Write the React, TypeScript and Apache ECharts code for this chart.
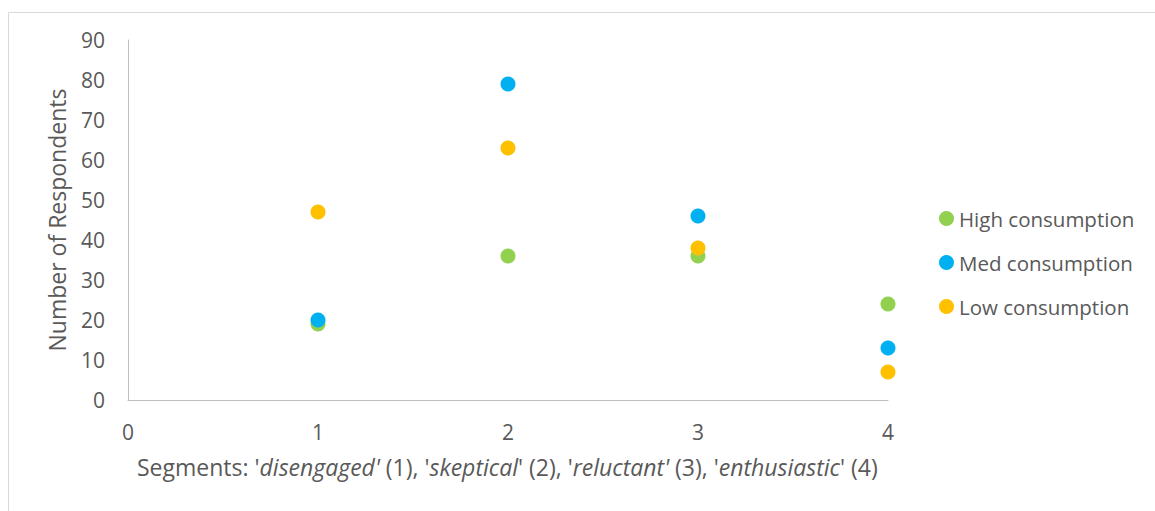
import React, { useEffect, useRef } from "react";
import * as echarts from "echarts";

// Segment positions on the x axis and respondent counts per consumption level
const segments = [1, 2, 3, 4];
const highConsumption = [19, 36, 36, 24];
const medConsumption = [20, 79, 46, 13];
const lowConsumption = [47, 63, 38, 7];

const seriesNames = ["High consumption", "Med consumption", "Low consumption"];
const seriesColors = ["#92D050", "#00B0F0", "#FFC000"];

const xTicks = [0, 1, 2, 3, 4];
const yTicks = [0, 10, 20, 30, 40, 50, 60, 70, 80, 90];

const FONT = "'Open Sans', sans-serif";
const TEXT = "#595959";

export default function App() {
  const ref = useRef<HTMLDivElement>(null);

  useEffect(() => {
    if (!ref.current) return;
    const chart = echarts.init(ref.current, undefined, { renderer: "svg" });

    const pairs = (ys: number[]) => segments.map((x, i) => [x, ys[i]]);
    const values = [highConsumption, medConsumption, lowConsumption];

    chart.setOption({
      animation: false,
      backgroundColor: "#ffffff",
      textStyle: { fontFamily: FONT, color: TEXT },
      grid: { left: 128, top: 40, width: 760, height: 360, containLabel: false },
      xAxis: {
        type: "value",
        min: xTicks[0],
        max: xTicks[xTicks.length - 1],
        interval: 1,
        axisLine: { show: true, lineStyle: { color: "#BFBFBF", width: 1 } },
        axisTick: { show: false },
        splitLine: { show: false },
        axisLabel: { color: TEXT, fontSize: 21, fontFamily: FONT, margin: 21 },
      },
      yAxis: {
        type: "value",
        min: yTicks[0],
        max: yTicks[yTicks.length - 1],
        interval: 10,
        axisLine: { show: true, lineStyle: { color: "#BFBFBF", width: 1 } },
        axisTick: { show: false },
        splitLine: { show: false },
        axisLabel: { color: TEXT, fontSize: 21, fontFamily: FONT, margin: 23 },
        name: "Number of Respondents",
        nameLocation: "middle",
        nameGap: 60,
        nameTextStyle: { color: TEXT, fontSize: 23, fontFamily: FONT },
      },
      legend: {
        orient: "vertical",
        left: 934,
        top: 203,
        itemWidth: 15,
        itemHeight: 15,
        itemGap: 23,
        icon: "circle",
        textStyle: { color: TEXT, fontSize: 20.5, fontFamily: FONT },
        data: seriesNames,
      },
      graphic: [
        {
          type: "rect",
          shape: { x: 8.5, y: 12.5, width: 1300, height: 700 },
          style: { fill: "none", stroke: "#D9D9D9", lineWidth: 1 },
          silent: true,
        },
        {
          type: "text",
          x: 137,
          y: 467,
          style: {
            text: "{n|Segments: '}{i|disengaged'}{n| (1), '}{i|skeptical}{n|' (2), '}{i|reluctant'}{n| (3), '}{i|enthusiastic}{n|' (4)}",
            verticalAlign: "middle",
            fontFamily: FONT,
            fontSize: 23,
            fill: TEXT,
            rich: {
              n: { fontFamily: FONT, fontSize: 23, fill: TEXT, font: "23px 'Open Sans', sans-serif" },
              i: {
                fontFamily: FONT,
                fontSize: 23,
                fontStyle: "italic",
                fill: TEXT,
                font: "italic 23px 'Open Sans', sans-serif",
              },
            },
          },
        },
      ],
      series: seriesNames.map((name, k) => ({
        name,
        type: "scatter",
        symbol: "circle",
        symbolSize: 15,
        itemStyle: { color: seriesColors[k], opacity: 1 },
        data: pairs(values[k]),
      })),
    });

    return () => chart.dispose();
  }, []);

  return (
    <div
      ref={ref}
      style={{ position: "fixed", left: 0, top: 0, width: 1155, height: 511 }}
    />
  );
}
